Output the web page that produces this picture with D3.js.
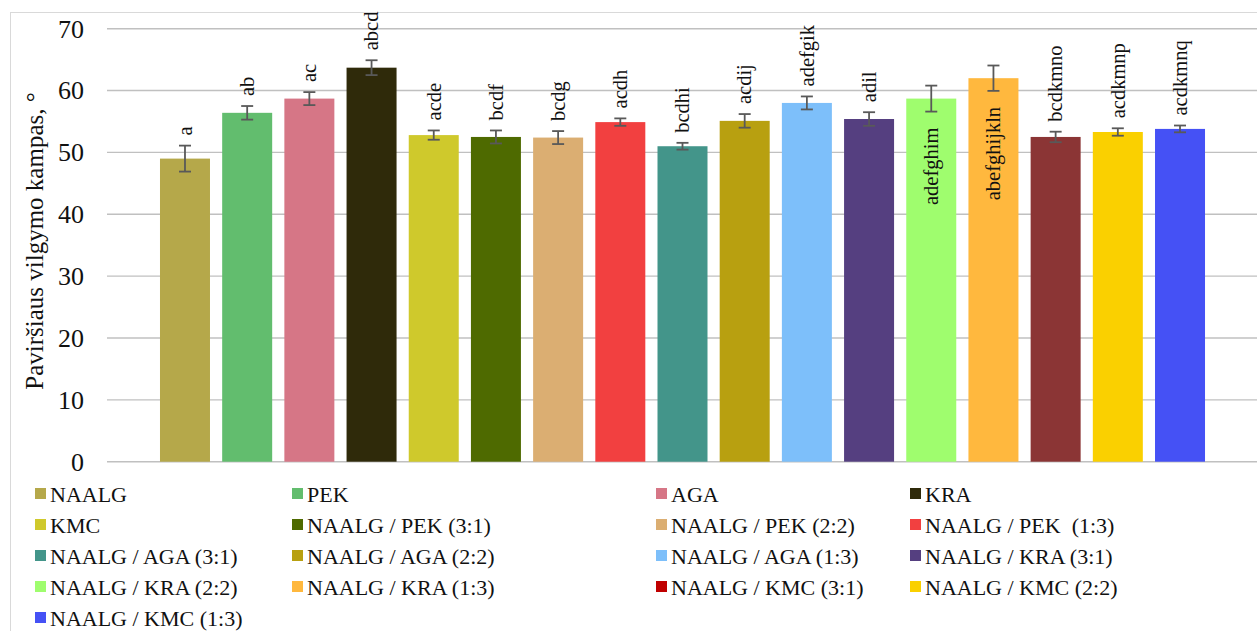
<!DOCTYPE html>
<html>
<head>
<meta charset="utf-8">
<script src="https://cdn.jsdelivr.net/npm/d3@7"></script>
<style>
  html, body { margin: 0; padding: 0; background: #fff; }
  svg { display: block; }
</style>
</head>
<body>
<svg id="chart" width="1257" height="631"></svg>
<script>
// Sample names (x categories)
const categories = [
  "NAALG", "PEK", "AGA", "KRA", "KMC",
  "NAALG / PEK (3:1)", "NAALG / PEK (2:2)", "NAALG / PEK  (1:3)",
  "NAALG / AGA (3:1)", "NAALG / AGA (2:2)", "NAALG / AGA (1:3)",
  "NAALG / KRA (3:1)", "NAALG / KRA (2:2)", "NAALG / KRA (1:3)",
  "NAALG / KMC (3:1)", "NAALG / KMC (2:2)", "NAALG / KMC (1:3)"
];
// Mean surface wetting angle, degrees
const angles = [49.0, 56.4, 58.7, 63.7, 52.8, 52.5, 52.4, 54.9, 51.0, 55.1, 58.0, 55.4, 58.7, 62.0, 52.5, 53.3, 53.8];
// Standard deviation
const deviations = [2.1, 1.1, 1.05, 1.2, 0.75, 1.05, 1.05, 0.6, 0.55, 1.1, 1.05, 1.1, 2.1, 2.05, 0.85, 0.6, 0.55];
// Significance letters
const letters = ["a", "ab", "ac", "abcd", "acde", "bcdf", "bcdg", "acdh", "bcdhi", "acdij", "adefgik", "adil", "adefghim", "abefghijkln", "bcdkmno", "acdkmnp", "acdkmnq"];
// Bar fills and legend swatch fills
const barColors = ["#b5a84a", "#62bd6e", "#d67686", "#2f2a0a", "#cfc92c", "#4e6a00", "#dbae72", "#f24040", "#43958a", "#b8a010", "#7dbffa", "#553f80", "#9ffd6e", "#ffb83e", "#8b3535", "#fad000", "#4551f5"];
const legendColors = ["#b5a84a", "#62bd6e", "#d67686", "#2f2a0a", "#cfc92c", "#4e6a00", "#dbae72", "#f24040", "#43958a", "#b8a010", "#7dbffa", "#553f80", "#9ffd6e", "#ffb83e", "#c00000", "#fad000", "#4551f5"];
// Y axis ticks
const yTicks = [0, 10, 20, 30, 40, 50, 60, 70];
const yTitle = "Paviršiaus vilgymo kampas, °";

const FONT = "Liberation Serif";

const data = categories.map((c, i) => ({
  name: c, value: angles[i], sd: deviations[i], label: letters[i],
  fill: barColors[i], legend: legendColors[i]
}));

const svg = d3.select("#chart");

// Chart frame
svg.append("rect")
  .attr("x", 10.5).attr("y", 12.5)
  .attr("width", 1300).attr("height", 700)
  .attr("fill", "#fff").attr("stroke", "#d9d9d9").attr("stroke-width", 1);

const plot = { left: 107, right: 1258, top: 28.7, bottom: 461.7 };

const x = d3.scaleBand()
  .domain(categories)
  .range([plot.left, plot.right])
  .paddingInner(0.196)
  .paddingOuter(0.852);

const y = d3.scaleLinear()
  .domain([0, 70])
  .range([plot.bottom, plot.top]);

// Gridlines
svg.append("g")
  .selectAll("line")
  .data(yTicks)
  .join("line")
  .attr("x1", plot.left).attr("x2", plot.right)
  .attr("y1", d => y(d)).attr("y2", d => y(d))
  .attr("stroke", "#c0c0c0").attr("stroke-width", 1.4);

// Y axis labels
const yAxis = d3.axisLeft(y).tickValues(yTicks).tickSize(0).tickPadding(0);
const gy = svg.append("g")
  .attr("transform", `translate(${plot.left - 23},0)`)
  .call(yAxis);
gy.select(".domain").remove();
gy.selectAll("text")
  .attr("font-family", FONT)
  .attr("font-size", 26)
  .attr("fill", "#111");

// Y axis title
svg.append("text")
  .attr("transform", `translate(43,241) rotate(-90)`)
  .attr("text-anchor", "middle")
  .attr("font-family", FONT)
  .attr("font-size", 25)
  .attr("fill", "#111")
  .text(yTitle);

// Bars
svg.append("g")
  .selectAll("rect")
  .data(data)
  .join("rect")
  .attr("x", d => x(d.name))
  .attr("width", x.bandwidth())
  .attr("y", d => y(d.value))
  .attr("height", d => y(0) - y(d.value))
  .attr("fill", d => d.fill);

// Error bars
const eb = svg.append("g")
  .attr("stroke", "#595959").attr("stroke-width", 1.8).attr("fill", "none");
data.forEach(d => {
  const cx = x(d.name) + x.bandwidth() / 2;
  const hi = y(d.value + d.sd), lo = y(d.value - d.sd);
  eb.append("line").attr("x1", cx).attr("x2", cx).attr("y1", hi).attr("y2", lo);
  eb.append("line").attr("x1", cx - 6).attr("x2", cx + 6).attr("y1", hi).attr("y2", hi);
  eb.append("line").attr("x1", cx - 6).attr("x2", cx + 6).attr("y1", lo).attr("y2", lo);
});

// Significance letters: above the error bar, or inside the bar for the tallest KRA blends
const insideLabels = new Set(["NAALG / KRA (2:2)", "NAALG / KRA (1:3)"]);
svg.append("g")
  .selectAll("text")
  .data(data)
  .join("text")
  .attr("transform", d => {
    const cx = x(d.name) + x.bandwidth() / 2;
    const yy = insideLabels.has(d.name) ? y(d.value - d.sd) + 16 : y(d.value + d.sd) - 10;
    return `translate(${cx},${yy}) rotate(-90)`;
  })
  .attr("dy", "0.33em")
  .attr("text-anchor", d => insideLabels.has(d.name) ? "end" : "start")
  .attr("font-family", FONT)
  .attr("font-size", 20.5)
  .attr("fill", "#111")
  .text(d => d.label);

// Legend: 4 columns
const colX = [35, 292, 656, 910];
const rowY0 = 494, rowStep = 31;
const lg = svg.append("g");
data.forEach((d, i) => {
  const col = i % 4, row = Math.floor(i / 4);
  const gx = colX[col], gy0 = rowY0 + row * rowStep;
  lg.append("rect")
    .attr("x", gx).attr("y", gy0 - 6)
    .attr("width", 11).attr("height", 11)
    .attr("fill", d.legend);
  lg.append("text")
    .attr("x", gx + 15).attr("y", gy0 + 8)
    .attr("font-family", FONT)
    .attr("font-size", 22)
    .attr("fill", "#111")
    .text(d.name.replace(/  /g, "\u00a0 "));
});
</script>
</body>
</html>
